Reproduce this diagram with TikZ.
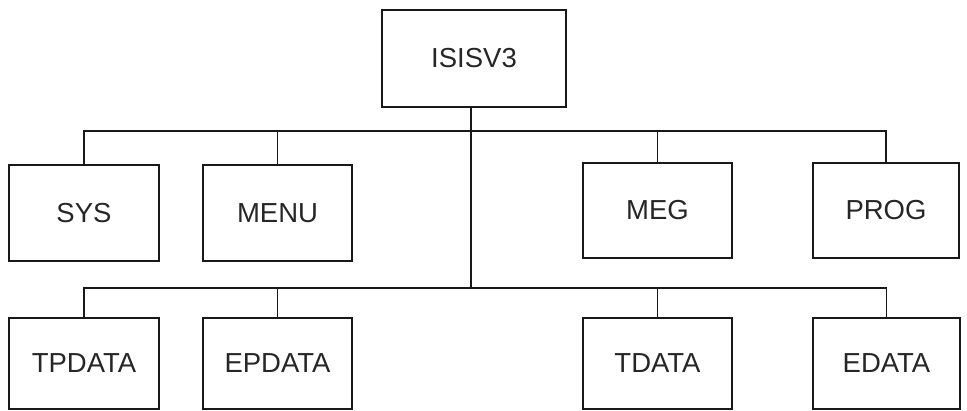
\documentclass[tikz,border=0pt]{standalone}
\usepackage{fontspec}
\setmainfont{Liberation Sans}
\begin{document}
\begin{tikzpicture}[x=1pt,y=-1pt,
  box/.style={draw=black!90,line width=2.2pt,inner sep=0pt,minimum width=150pt,minimum height=95pt,font=\fontsize{27.5}{30}\selectfont,text=black!85},
  link/.style={draw=black!90,line width=1.8pt}]
\useasboundingbox[fill=white] (0,0) rectangle (967,411);
\node[box,minimum width=184pt,minimum height=97pt] (isis) at (474,58.5) {ISISV3};
\node[box,minimum height=96pt] (sys) at (84,213) {SYS};
\node[box,minimum width=149pt,minimum height=96pt] (menu) at (277.5,213) {MENU};
\node[box,minimum width=149pt] (meg) at (657.5,210.5) {MEG};
\node[box,minimum width=146pt] (prog) at (886,210.5) {PROG};
\node[box,minimum height=91pt] (tpdata) at (84,363.5) {TPDATA};
\node[box,minimum width=149pt,minimum height=91pt] (epdata) at (277.5,363.5) {EPDATA};
\node[box,minimum width=149pt,minimum height=91pt] (tdata) at (657.5,363.5) {TDATA};
\node[box,minimum width=147pt,minimum height=91pt] (edata) at (886.5,363.5) {EDATA};
\coordinate (t1) at (471,131);
\coordinate (t2) at (471,288);
\draw[link] (isis.south -| t1) -- (t2);
\draw[link] (sys.north) |- (t1) -| (prog.north);
\draw[link] (menu.north) -- (menu.north |- t1);
\draw[link] (meg.north) -- (meg.north |- t1);
\draw[link] (tpdata.north) |- (t2) -| (edata.north);
\draw[link] (epdata.north) -- (epdata.north |- t2);
\draw[link] (tdata.north) -- (tdata.north |- t2);
\end{tikzpicture}
\end{document}
